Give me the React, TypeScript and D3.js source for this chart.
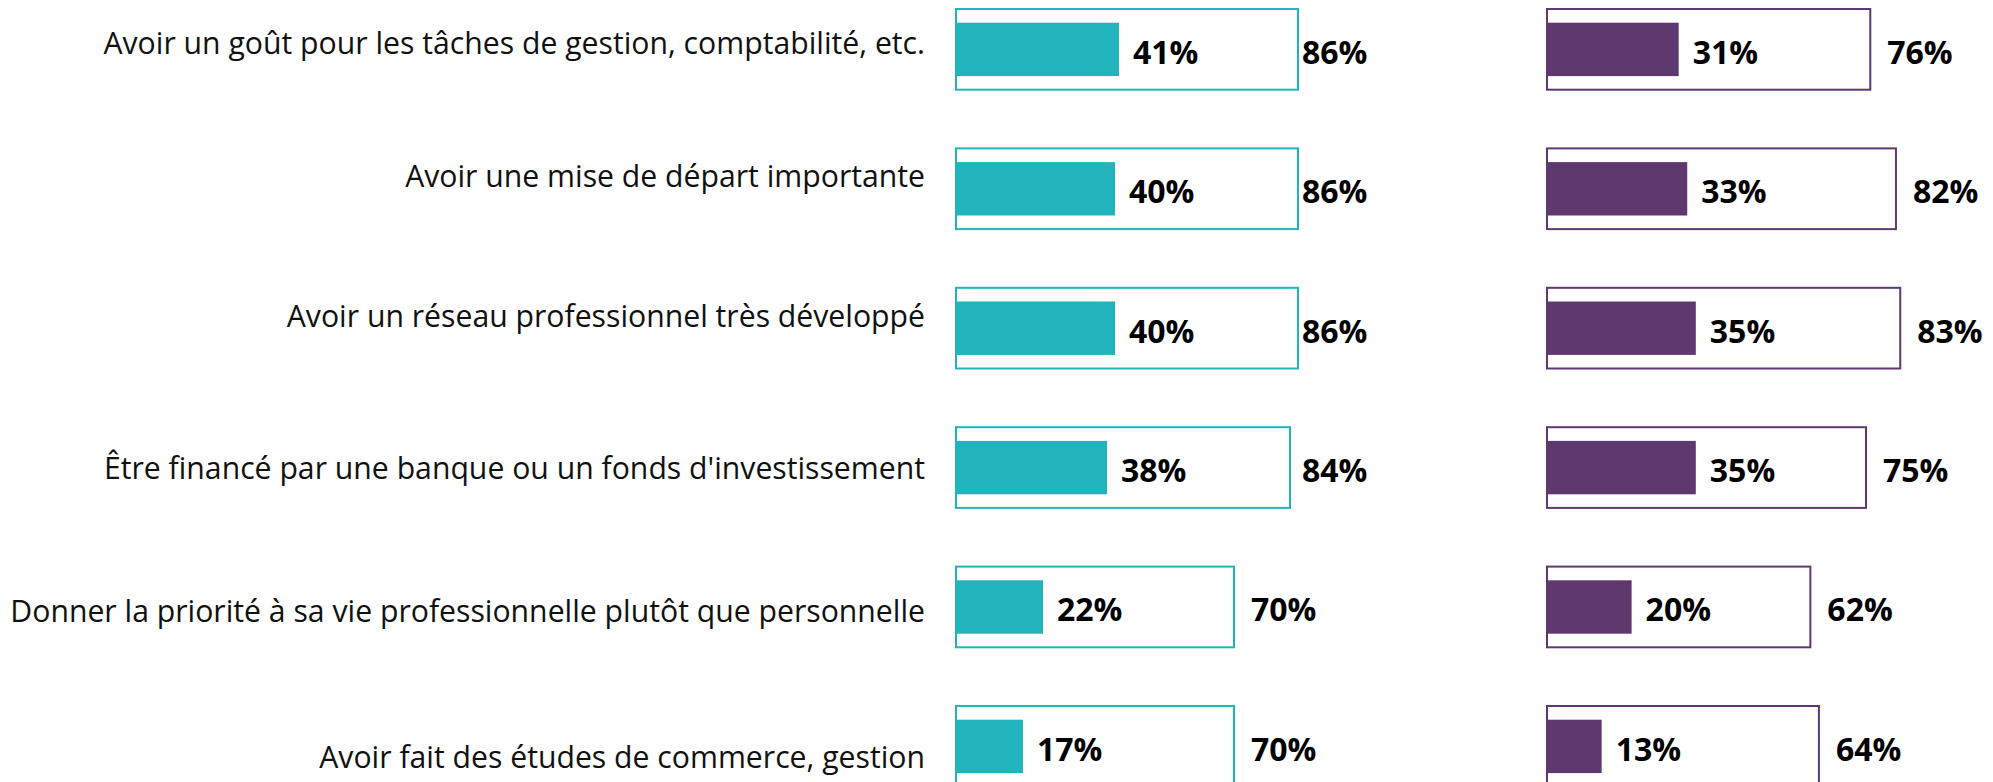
import { scaleBand, scaleLinear } from 'd3'

// categories, top to bottom
const categories = [
  'Avoir un goût pour les tâches de gestion, comptabilité, etc.',
  'Avoir une mise de départ importante',
  'Avoir un réseau professionnel très développé',
  "Être financé par une banque ou un fonds d'investissement",
  'Donner la priorité à sa vie professionnelle plutôt que personnelle',
  'Avoir fait des études de commerce, gestion',
]

// left panel (teal): inner value and total
const tealInner = [41, 40, 40, 38, 22, 17]
const tealTotal = [86, 86, 86, 84, 70, 70]

// right panel (purple)
const purpleInner = [31, 33, 35, 35, 20, 13]
const purpleTotal = [76, 82, 83, 75, 62, 64]

const TEAL = '#21b4bc'
const PURPLE = '#603870'

// the category labels don't sit exactly on the row centres in the original
const labelNudge = [5, -1.7, -1, 11.5, 14.6, 22]

const App = () => {
  const width = 1993
  const height = 782

  const step = 139.4
  const boxH = 82.7
  const barInset = 14.7
  const barH = 53.4

  // rows of boxes
  const yScale = scaleBand()
    .domain(categories)
    .range([8, 8 + step * categories.length])
    .padding(0)

  const xTeal = scaleLinear().domain([0, 100]).range([955, 1355])
  const xPurple = scaleLinear().domain([0, 100]).range([1546, 1974])

  const panels = [
    { x: xTeal, inner: tealInner, total: tealTotal, color: TEAL, maxLabelX: 1302 },
    { x: xPurple, inner: purpleInner, total: purpleTotal, color: PURPLE, maxLabelX: 9999 },
  ]

  const valueFont = { fontFamily: '"Open Sans", sans-serif', fontWeight: 700, fontSize: 32 }

  return (
    <svg
      width={width}
      height={height}
      style={{ position: 'absolute', left: 0, top: 0, background: '#fff' }}
    >
      {categories.map((c, i) => (
        <text
          key={c}
          x={925}
          y={yScale(c) + boxH / 2 + labelNudge[i]}
          textAnchor="end"
          style={{ fontFamily: '"Open Sans", sans-serif', fontSize: 30.2 }}
          fill="#111"
        >
          {c}
        </text>
      ))}

      {panels.map((p, pi) => (
        <g key={pi}>
          {categories.map((c, i) => {
            const top = yScale(c)
            const x0 = p.x(0)
            const xt = p.x(p.total[i])
            const xi = p.x(p.inner[i])
            const mid = top + boxH / 2
            return (
              <g key={c}>
                <rect
                  x={x0 + 1}
                  y={top + 1}
                  width={xt - x0 - 2}
                  height={boxH - 2}
                  fill="none"
                  stroke={p.color}
                  strokeWidth={2}
                />
                <rect x={x0} y={top + barInset} width={xi - x0} height={barH} fill={p.color} />
                <text x={xi + 14} y={mid + 14.5} style={valueFont} fill="#000">
                  {p.inner[i]}%
                </text>
                <text x={Math.min(xt + 16, p.maxLabelX)} y={mid + 14.5} style={valueFont} fill="#000">
                  {p.total[i]}%
                </text>
              </g>
            )
          })}
        </g>
      ))}
    </svg>
  )
}

export default App
